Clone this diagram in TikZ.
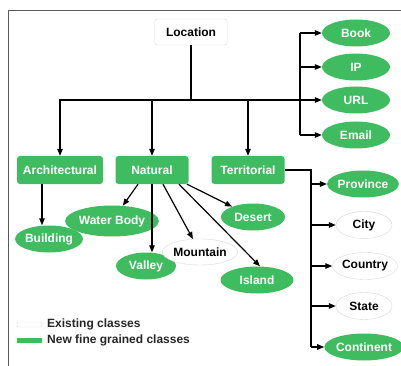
\documentclass[tikz,border=0pt]{standalone}
\usepackage{fontspec}
\setmainfont{Liberation Sans}
\usetikzlibrary{shapes.geometric,arrows.meta}
\definecolor{leaf}{RGB}{64,188,96}
\definecolor{rim}{RGB}{218,218,218}
\definecolor{frame}{RGB}{90,90,90}
\tikzset{
  lbl/.style={font=\fontsize{12}{14}\selectfont\bfseries},
  newbox/.style={lbl, rectangle, rounded corners=3pt, fill=leaf, text=white, minimum height=28pt, inner sep=0pt},
  newoval/.style={lbl, ellipse, fill=leaf, text=white, inner sep=0pt, minimum height=27pt},
  oldoval/.style={lbl, ellipse, draw=rim, fill=white, text=black, inner sep=0pt, minimum height=27pt},
  rootbox/.style={lbl, rectangle, rounded corners=3pt, draw=rim, fill=white, minimum width=73pt, minimum height=26pt, inner sep=0pt},
  arr/.style={-{Triangle[length=7pt,width=5.5pt]}, line width=1.2pt},
  wire/.style={line width=1.2pt},
}
\begin{document}
\begin{tikzpicture}[x=1pt,y=-1pt]
\useasboundingbox (0,0) rectangle (401,366);
% frame
\draw[frame, line width=1pt] (8.5,366) -- (8.5,10.5) -- (401,10.5);

% root
\node[rootbox] (loc) at (191,32) {Location};

% right-hand leaves of the root
\node[newoval, minimum width=68pt] (book) at (356,33) {Book};
\node[newoval, minimum width=68pt] (ip) at (356,67) {IP};
\node[newoval, minimum width=68pt] (url) at (356,100) {URL};
\node[newoval, minimum width=68pt] (email) at (356,135) {Email};

% second level
\node[newbox, minimum width=86pt] (arch) at (60,170) {Architectural};
\node[newbox, minimum width=73pt] (nat) at (152,170) {Natural};
\node[newbox, minimum width=73pt] (terr) at (248,170) {Territorial};

% children of Architectural and Natural
\node[newoval, minimum width=62pt] (bld) at (49,239) {Building};
\node[newoval, minimum width=72pt, minimum height=31pt] (wb) at (112,221) {Water Body};
\node[newoval, minimum width=60pt] (val) at (146,266) {Valley};
\node[oldoval, minimum width=64pt, minimum height=26pt] (mnt) at (200,252) {Mountain};
\node[newoval, minimum width=73pt] (isl) at (257,280) {Island};
\node[newoval, minimum width=64pt] (des) at (253,217) {Desert};

% children of Territorial
\node[newoval, minimum width=56pt] (prov) at (363,184) {Province};
\node[oldoval, minimum width=56pt] (city) at (364,225) {City};
\node[oldoval, minimum width=54pt] (ctry) at (365,266) {Country};
\node[oldoval, minimum width=56pt] (state) at (364,306) {State};
\node[newoval, minimum width=58pt] (cont) at (364,347) {Continent};

% root connectors
\coordinate (hub) at (191,100);
\coordinate (rbus) at (300,100);
\draw[wire] (loc) -- (hub);
\draw[arr] (hub) -| (arch);
\draw[arr] (hub) -| (nat);
\draw[arr] (hub) -| (terr);
\draw[arr] (arch.center |- hub) -- (url);
\draw[wire] (rbus |- book) -- (rbus |- email);
\draw[arr] (rbus |- book) -- (book);
\draw[arr] (rbus |- ip) -- (ip);
\draw[arr] (rbus |- email) -- (email);

% Architectural
\draw[arr] ([xshift=-18pt]arch.south) -- ([xshift=-7pt]bld.north);

% Natural
\draw[arr] ([xshift=-14pt]nat.south) -- (wb);
\draw[arr] (nat.south) -- (nat.south |- val.north);
\draw[arr] ([xshift=11pt]nat.south) -- (mnt);
\draw[arr] ([xshift=27pt]nat.south) -- ([xshift=3pt]isl.north);
\draw[arr] ([xshift=35pt]nat.south) -- (des);

% Territorial
\coordinate (tbus) at (311,170);
\draw[wire] (terr) -- (tbus) -- (tbus |- cont);
\draw[arr] (tbus |- prov) -- (prov);
\draw[arr] (tbus |- city) -- (city);
\draw[arr] (tbus |- ctry) -- (ctry);
\draw[arr] (tbus |- state) -- (state);
\draw[arr] (tbus |- cont) -- (cont);

% legend
\node[draw=rim, fill=white, rounded corners=1pt, minimum width=25pt, minimum height=5pt, inner sep=0pt] (oldkey) at (29.5,324.5) {};
\node[fill=leaf, minimum width=25pt, minimum height=5pt, inner sep=0pt] (newkey) at (29.5,340) {};
\node[lbl, anchor=west, inner sep=0pt, text=black!85] (oldtxt) at (47,324) {Existing classes};
\node[lbl, anchor=west, inner sep=0pt, text=black!85] (newtxt) at (47,340) {New fine grained classes};
\end{tikzpicture}
\end{document}
